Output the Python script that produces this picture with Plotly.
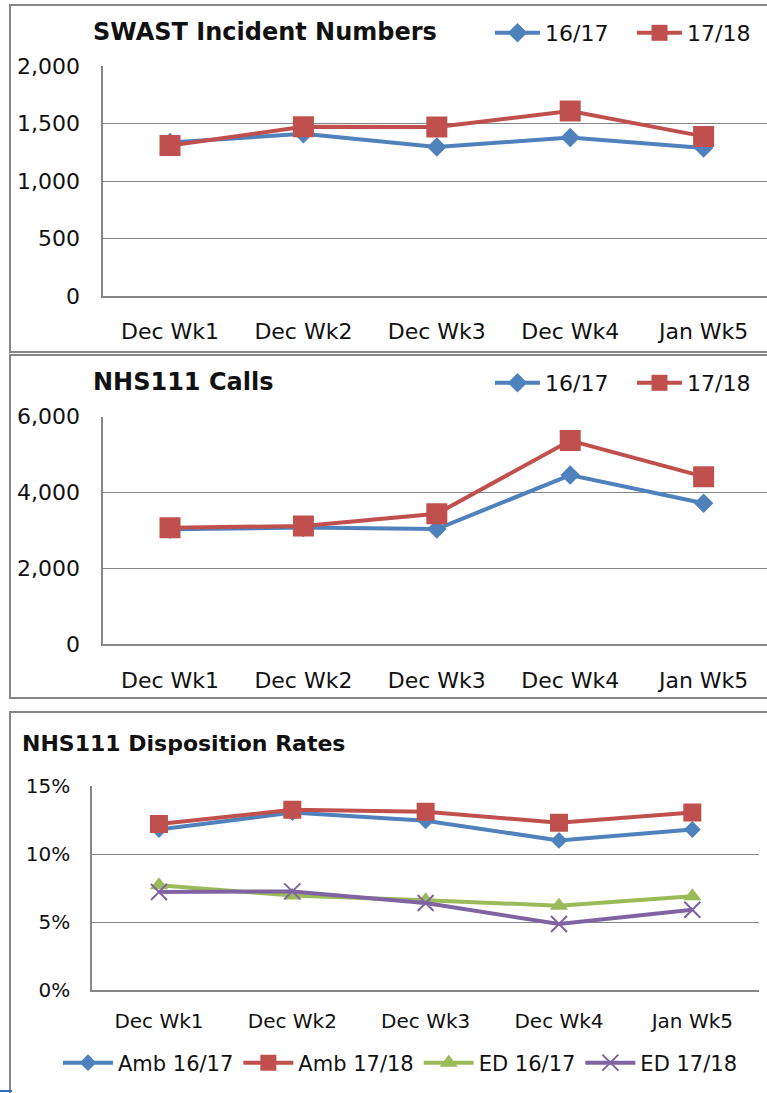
import plotly.graph_objects as go

categories = ["Dec Wk1", "Dec Wk2", "Dec Wk3", "Dec Wk4", "Jan Wk5"]

swast_1617 = [1335, 1410, 1296, 1378, 1287]
swast_1718 = [1308, 1472, 1470, 1609, 1388]

nhs111_1617 = [3030, 3080, 3040, 4460, 3720]
nhs111_1718 = [3070, 3120, 3440, 5370, 4420]

amb_1617 = [0.118, 0.1305, 0.1245, 0.110, 0.118]
amb_1718 = [0.122, 0.1325, 0.131, 0.123, 0.1305]
ed_1617 = [0.077, 0.0695, 0.066, 0.062, 0.069]
ed_1718 = [0.072, 0.0725, 0.064, 0.0485, 0.059]

W, H = 767, 1093
BLUE, RED, GREEN, PURPLE = "#4F81BD", "#C0504D", "#9BBB59", "#8064A2"
GRID = "#868686"
FONT = "DejaVu Sans"


def px(x):
    return x / W


def py(y):
    return 1 - y / H


fig = go.Figure()

# Panel 1
fig.add_trace(go.Scatter(x=categories, y=swast_1617, name="16/17", mode="lines+markers",
                         line=dict(color=BLUE, width=4), marker=dict(symbol="diamond", size=15, color=BLUE),
                         xaxis="x", yaxis="y", legend="legend"))
fig.add_trace(go.Scatter(x=categories, y=swast_1718, name="17/18", mode="lines+markers",
                         line=dict(color=RED, width=4), marker=dict(symbol="square", size=21, color=RED),
                         xaxis="x", yaxis="y", legend="legend"))
# Panel 2
fig.add_trace(go.Scatter(x=categories, y=nhs111_1617, name="16/17", mode="lines+markers",
                         line=dict(color=BLUE, width=4), marker=dict(symbol="diamond", size=15, color=BLUE),
                         xaxis="x2", yaxis="y2", legend="legend2"))
fig.add_trace(go.Scatter(x=categories, y=nhs111_1718, name="17/18", mode="lines+markers",
                         line=dict(color=RED, width=4), marker=dict(symbol="square", size=21, color=RED),
                         xaxis="x2", yaxis="y2", legend="legend2"))
# Panel 3
fig.add_trace(go.Scatter(x=categories, y=amb_1617, name="Amb 16/17", mode="lines+markers",
                         line=dict(color=BLUE, width=4), marker=dict(symbol="diamond", size=13, color=BLUE),
                         xaxis="x3", yaxis="y3", legend="legend3"))
fig.add_trace(go.Scatter(x=categories, y=amb_1718, name="Amb 17/18", mode="lines+markers",
                         line=dict(color=RED, width=4), marker=dict(symbol="square", size=18, color=RED),
                         xaxis="x3", yaxis="y3", legend="legend3"))
fig.add_trace(go.Scatter(x=categories, y=ed_1617, name="ED 16/17", mode="lines+markers",
                         line=dict(color=GREEN, width=4), marker=dict(symbol="triangle-up", size=16, color=GREEN),
                         xaxis="x3", yaxis="y3", legend="legend3"))
fig.add_trace(go.Scatter(x=categories, y=ed_1718, name="ED 17/18", mode="lines+markers",
                         line=dict(color=PURPLE, width=4),
                         marker=dict(symbol="x-thin", size=16, color=PURPLE, line=dict(color=PURPLE, width=2)),
                         xaxis="x3", yaxis="y3", legend="legend3"))

xcommon = dict(type="category", showgrid=False, showline=True, linecolor=GRID, linewidth=2, automargin=False,
               ticks="", tickfont=dict(family=FONT, size=22, color="#111"), fixedrange=True)
ycommon = dict(showgrid=True, gridcolor=GRID, gridwidth=1, showline=True, linecolor=GRID, linewidth=2,
               automargin=False, zeroline=False, ticks="", tickfont=dict(family=FONT, size=22, color="#111"),
               fixedrange=True)

legcommon = dict(orientation="h", xanchor="left", yanchor="middle", xref="container", yref="container",
                 bgcolor="rgba(0,0,0,0)", borderwidth=0)

fig.update_layout(
    width=W, height=H, margin=dict(l=0, r=0, t=0, b=0, autoexpand=False),
    paper_bgcolor="white", plot_bgcolor="white",
    xaxis=dict(xcommon, domain=[px(103.3), 1], range=[-0.5, 4.475], anchor="y", ticklabelstandoff=15),
    yaxis=dict(ycommon, domain=[py(296), py(66)], range=[0, 2000], tickvals=[0, 500, 1000, 1500, 2000],
               tickformat=",", anchor="x", ticklabelstandoff=17),
    xaxis2=dict(xcommon, domain=[px(103.3), 1], range=[-0.5, 4.475], anchor="y2", ticklabelstandoff=15),
    yaxis2=dict(ycommon, domain=[py(644.3), py(416.7)], range=[0, 6000], tickvals=[0, 2000, 4000, 6000],
                tickformat=",", anchor="x2", ticklabelstandoff=17),
    xaxis3=dict(xcommon, domain=[px(92.3), px(759)], range=[-0.5, 4.5], anchor="y3", ticklabelstandoff=12,
                tickfont=dict(family=FONT, size=20, color="#111")),
    yaxis3=dict(ycommon, domain=[py(990), py(786)], range=[0, 0.15], tickvals=[0, 0.05, 0.10, 0.15],
                tickformat=".0%", anchor="x3", ticklabelstandoff=16,
                tickfont=dict(family=FONT, size=20, color="#111")),
    legend=dict(legcommon, x=px(490), y=py(33), itemwidth=45, entrywidthmode="pixels", entrywidth=82,
                font=dict(family=FONT, size=22, color="#111")),
    legend2=dict(legcommon, x=px(490), y=py(383), itemwidth=45, entrywidthmode="pixels", entrywidth=82,
                 font=dict(family=FONT, size=22, color="#111")),
    legend3=dict(legcommon, x=px(58), y=py(1063), itemwidth=50,
                 font=dict(family=FONT, size=21, color="#111")),
    showlegend=True,
)

annotations = [
    dict(text="<b>SWAST Incident Numbers</b>", x=px(91), y=py(32), size=24),
    dict(text="<b>NHS111 Calls</b>", x=px(91), y=py(382), size=24),
    dict(text="<b>NHS111 Disposition Rates</b>", x=px(20), y=py(743), size=22),
]
for a in annotations:
    fig.add_annotation(xref="paper", yref="paper", xanchor="left", yanchor="middle", showarrow=False,
                       text=a["text"], x=a["x"], y=a["y"],
                       font=dict(family=FONT, size=a["size"], color="#111"))

# Panel borders
for (y0, y1) in [(5, 352), (355, 698), (712, 1100)]:
    fig.add_shape(type="rect", xref="paper", yref="paper", x0=px(10), x1=1.05, y0=py(y1), y1=py(y0),
                  line=dict(color=GRID, width=2), fillcolor="rgba(0,0,0,0)", layer="below")
fig.add_shape(type="line", xref="paper", yref="paper", x0=0, x1=px(12), y0=py(1091), y1=py(1091),
              line=dict(color="#2F6FBF", width=2))

post = ("document.body.style.margin='0';document.body.style.overflow='hidden';"
        "var d=document.getElementById('{plot_id}');d.style.position='fixed';"
        "d.style.left='0px';d.style.top='0px';")
fig.write_html("out.html", post_script=post, config={"displayModeBar": False})
